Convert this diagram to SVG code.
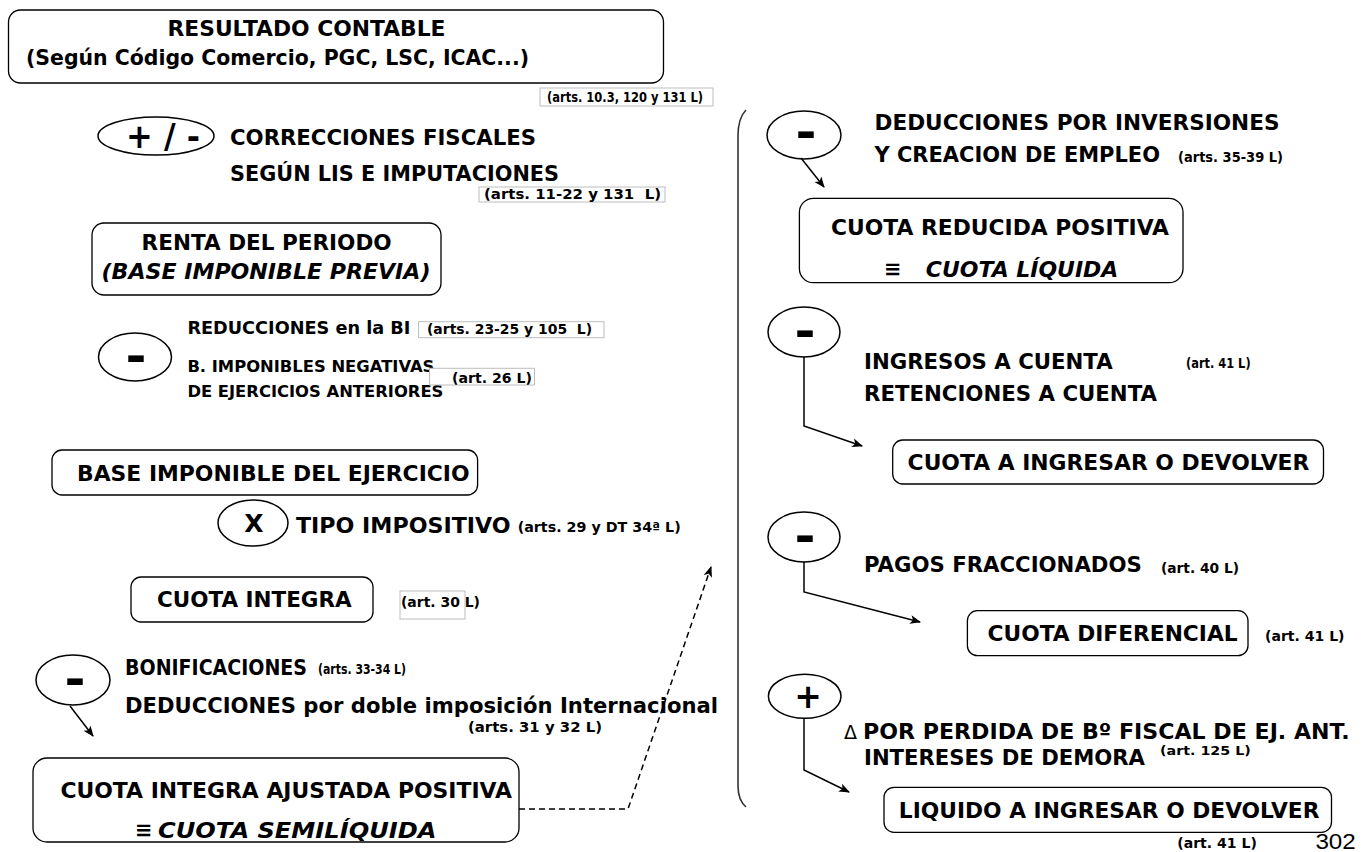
<svg xmlns="http://www.w3.org/2000/svg" width="1363" height="852" viewBox="0 0 1363 852">
<defs>
<style>
.t{font-family:"DejaVu Sans",Verdana,sans-serif;font-weight:bold;fill:#000}
.m{font-size:21.5px}
.s{font-size:13.5px}
.i{font-style:italic}
.box{fill:#fff;stroke:#000;stroke-width:1.3}
.ell{fill:#fff;stroke:#000;stroke-width:1.5}
.ab{fill:#fff;stroke:#bdbdbd;stroke-width:1}
.c{fill:none;stroke:#000;stroke-width:1.5}
.d{fill:none;stroke:#000;stroke-width:1.5;stroke-dasharray:6 4}
.br{fill:none;stroke:#333;stroke-width:1.6}
</style>
<marker id="ah" viewBox="0 0 10 10" refX="9" refY="5" markerWidth="11" markerHeight="11" markerUnits="userSpaceOnUse" orient="auto">
<path d="M0,1 L10,5 L0,9 L2.5,5 z" fill="#000"/>
</marker>
</defs>
<rect width="1363" height="852" fill="#fff"/>

<g id="resultado">
<rect class="box" x="8.5" y="10" width="655" height="73" rx="12"/>
<text class="t m" x="167.5" y="36" textLength="278" lengthAdjust="spacingAndGlyphs">RESULTADO CONTABLE</text>
<text class="t m" x="26" y="65" textLength="503" lengthAdjust="spacingAndGlyphs">(Según Código Comercio, PGC, LSC, ICAC...)</text>
</g>
<g id="art1">
<rect class="ab" x="540" y="88" width="173" height="18"/>
<text class="t s" x="547" y="102" textLength="156" lengthAdjust="spacingAndGlyphs">(arts. 10.3, 120 y 131 L)</text>
</g>

<g id="correcciones">
<ellipse class="ell" cx="156" cy="136" rx="58" ry="19"/>
<text class="t" x="126" y="148" font-size="34" textLength="74" lengthAdjust="spacingAndGlyphs">+ / -</text>
<text class="t m" x="230" y="145" textLength="306" lengthAdjust="spacingAndGlyphs">CORRECCIONES FISCALES</text>
<text class="t m" x="230" y="181" textLength="329" lengthAdjust="spacingAndGlyphs">SEGÚN LIS E IMPUTACIONES</text>
<rect class="ab" x="479" y="187" width="186" height="15"/>
<text class="t s" x="484" y="199" textLength="177" lengthAdjust="spacingAndGlyphs">(arts. 11-22 y 131 &#160;L)</text>
</g>

<g id="renta">
<rect class="box" x="92" y="223" width="349" height="72" rx="12"/>
<text class="t m" x="141.6" y="250" textLength="250" lengthAdjust="spacingAndGlyphs">RENTA DEL PERIODO</text>
<text class="t m i" x="101.5" y="279" textLength="329" lengthAdjust="spacingAndGlyphs">(BASE IMPONIBLE PREVIA)</text>
</g>

<g id="reducciones">
<ellipse class="ell" cx="135" cy="357" rx="36.5" ry="24"/>
<text class="t" x="136" y="371.5" font-size="46" text-anchor="middle" textLength="21" lengthAdjust="spacingAndGlyphs">-</text>
<text class="t" x="187.4" y="334" font-size="17" textLength="223" lengthAdjust="spacingAndGlyphs">REDUCCIONES en la BI</text>
<rect class="ab" x="418.6" y="321.7" width="185.4" height="16"/>
<text class="t s" x="427" y="334" textLength="165" lengthAdjust="spacingAndGlyphs">(arts. 23-25 y 105 &#160;L)</text>
<text class="t" x="187.4" y="372" font-size="16" textLength="247" lengthAdjust="spacingAndGlyphs">B. IMPONIBLES NEGATIVAS</text>
<text class="t" x="187.4" y="397" font-size="16" textLength="256" lengthAdjust="spacingAndGlyphs">DE EJERCICIOS ANTERIORES</text>
<rect class="ab" x="429.5" y="368.3" width="105" height="16.7"/>
<text class="t s" x="452" y="383" textLength="80" lengthAdjust="spacingAndGlyphs">(art. 26 L)</text>
</g>

<g id="base-ejercicio">
<rect class="box" x="52" y="450" width="425.6" height="45" rx="10"/>
<text class="t m" x="77" y="480.5" textLength="392.6" lengthAdjust="spacingAndGlyphs">BASE IMPONIBLE DEL EJERCICIO</text>
</g>

<g id="tipo">
<ellipse class="ell" cx="253" cy="523" rx="35" ry="23"/>
<text class="t" x="254" y="531.5" font-size="25" text-anchor="middle">X</text>
<text class="t m" x="296" y="532.5" textLength="214.6" lengthAdjust="spacingAndGlyphs">TIPO IMPOSITIVO</text>
<text class="t s" x="517.7" y="532" textLength="163" lengthAdjust="spacingAndGlyphs">(arts. 29 y DT 34ª L)</text>
</g>

<g id="cuota-integra">
<rect class="box" x="131" y="577" width="242" height="45" rx="10"/>
<text class="t m" x="157" y="607" textLength="194.6" lengthAdjust="spacingAndGlyphs">CUOTA INTEGRA</text>
<rect class="ab" x="400" y="591" width="65" height="28"/>
<text class="t s" x="401" y="607" textLength="79" lengthAdjust="spacingAndGlyphs">(art. 30 L)</text>
</g>

<g id="bonificaciones">
<ellipse class="ell" cx="73" cy="680" rx="37" ry="25"/>
<text class="t" x="75" y="695" font-size="46" text-anchor="middle" textLength="21" lengthAdjust="spacingAndGlyphs">-</text>
<text class="t m" x="125" y="674.5" textLength="182" lengthAdjust="spacingAndGlyphs">BONIFICACIONES</text>
<text class="t s" x="318" y="673.5" textLength="88" lengthAdjust="spacingAndGlyphs">(arts. 33-34 L)</text>
<text class="t m" x="125" y="712.5" textLength="593" lengthAdjust="spacingAndGlyphs">DEDUCCIONES por doble imposición Internacional</text>
<text class="t s" x="468" y="731.5" textLength="134" lengthAdjust="spacingAndGlyphs">(arts. 31 y 32 L)</text>
</g>

<g id="cuota-semiliquida">
<rect class="box" x="33" y="758" width="486" height="84" rx="14"/>
<text class="t m" x="60.4" y="797.5" textLength="451.6" lengthAdjust="spacingAndGlyphs">CUOTA INTEGRA AJUSTADA POSITIVA</text>
<text class="t" x="135" y="837" font-size="21">≡</text>
<text class="t m i" x="158" y="838" textLength="278.5" lengthAdjust="spacingAndGlyphs">CUOTA SEMILÍQUIDA</text>
</g>

<g id="bracket">
<path class="br" d="M746,110 Q738,118 738,136 L738,786 Q738,800 746,807"/>
</g>

<g id="deducciones-inversiones">
<ellipse class="ell" cx="804" cy="135" rx="37" ry="24"/>
<text class="t" x="806" y="148" font-size="46" text-anchor="middle" textLength="21" lengthAdjust="spacingAndGlyphs">-</text>
<text class="t m" x="874.5" y="130" textLength="405" lengthAdjust="spacingAndGlyphs">DEDUCCIONES POR INVERSIONES</text>
<text class="t m" x="874.5" y="162" textLength="285.5" lengthAdjust="spacingAndGlyphs">Y CREACION DE EMPLEO</text>
<text class="t s" x="1178" y="161.5" textLength="105" lengthAdjust="spacingAndGlyphs">(arts. 35-39 L)</text>
</g>

<g id="cuota-liquida">
<rect class="box" x="799.4" y="198.3" width="383.6" height="84.4" rx="14"/>
<text class="t m" x="831" y="234.5" textLength="338" lengthAdjust="spacingAndGlyphs">CUOTA REDUCIDA POSITIVA</text>
<text class="t" x="884" y="276" font-size="21">≡</text>
<text class="t m i" x="925.8" y="277" textLength="192.5" lengthAdjust="spacingAndGlyphs">CUOTA LÍQUIDA</text>
</g>

<g id="ingresos-cuenta">
<ellipse class="ell" cx="804" cy="332" rx="36" ry="25"/>
<text class="t" x="805" y="347" font-size="46" text-anchor="middle" textLength="21" lengthAdjust="spacingAndGlyphs">-</text>
<text class="t m" x="864" y="368.5" textLength="248.7" lengthAdjust="spacingAndGlyphs">INGRESOS A CUENTA</text>
<text class="t s" x="1186" y="367.5" textLength="64.6" lengthAdjust="spacingAndGlyphs">(art. 41 L)</text>
<text class="t m" x="864" y="400.5" textLength="293" lengthAdjust="spacingAndGlyphs">RETENCIONES A CUENTA</text>
</g>

<g id="cuota-ingresar">
<rect class="box" x="892.7" y="440" width="430.8" height="44" rx="10"/>
<text class="t m" x="907.6" y="469.5" textLength="401.7" lengthAdjust="spacingAndGlyphs">CUOTA A INGRESAR O DEVOLVER</text>
</g>

<g id="pagos">
<ellipse class="ell" cx="804" cy="537" rx="36" ry="25"/>
<text class="t" x="805" y="552" font-size="46" text-anchor="middle" textLength="21" lengthAdjust="spacingAndGlyphs">-</text>
<text class="t m" x="864" y="572" textLength="277.8" lengthAdjust="spacingAndGlyphs">PAGOS FRACCIONADOS</text>
<text class="t s" x="1161" y="573" textLength="78" lengthAdjust="spacingAndGlyphs">(art. 40 L)</text>
</g>

<g id="cuota-diferencial">
<rect class="box" x="967.4" y="610.7" width="280.6" height="45" rx="10"/>
<text class="t m" x="987.6" y="641" textLength="250" lengthAdjust="spacingAndGlyphs">CUOTA DIFERENCIAL</text>
<text class="t s" x="1265" y="640.5" textLength="79.5" lengthAdjust="spacingAndGlyphs">(art. 41 L)</text>
</g>

<g id="intereses">
<ellipse class="ell" cx="804.7" cy="696.3" rx="36.3" ry="22"/>
<text class="t" x="808" y="708" font-size="33" text-anchor="middle">+</text>
<text x="844" y="738.5" font-family="'DejaVu Sans',sans-serif" font-size="19" fill="#000">Δ</text>
<text class="t m" x="863" y="738.5" textLength="486.7" lengthAdjust="spacingAndGlyphs">POR PERDIDA DE Bº FISCAL DE EJ. ANT.</text>
<text class="t m" x="864" y="764.5" textLength="281" lengthAdjust="spacingAndGlyphs">INTERESES DE DEMORA</text>
<text class="t" x="1160" y="755" font-size="12.5" textLength="90.8" lengthAdjust="spacingAndGlyphs">(art. 125 L)</text>
</g>

<g id="liquido">
<rect class="box" x="884" y="787.3" width="447.5" height="45" rx="10"/>
<text class="t m" x="898.8" y="817.5" textLength="420.6" lengthAdjust="spacingAndGlyphs">LIQUIDO A INGRESAR O DEVOLVER</text>
<text class="t s" x="1177.3" y="847.5" textLength="79.5" lengthAdjust="spacingAndGlyphs">(art. 41 L)</text>
</g>

<g id="page-number">
<text x="1315.4" y="849" font-family="'Liberation Sans',Arial,sans-serif" font-size="22" fill="#000" textLength="40.4" lengthAdjust="spacingAndGlyphs">302</text>
</g>

<g id="connectors">
<path class="c" d="M70,706 L93,736" marker-end="url(#ah)"/>
<path class="c" d="M801,158 L824,187" marker-end="url(#ah)"/>
<path class="c" d="M804,357 L804,426 L862,446" marker-end="url(#ah)"/>
<path class="c" d="M804,562 L804,592 L920,622" marker-end="url(#ah)"/>
<path class="c" d="M804,718 L804,770 L849,792" marker-end="url(#ah)"/>
<path class="d" d="M519,809 L628,809 L711,567" marker-end="url(#ah)"/>
</g>
</svg>
